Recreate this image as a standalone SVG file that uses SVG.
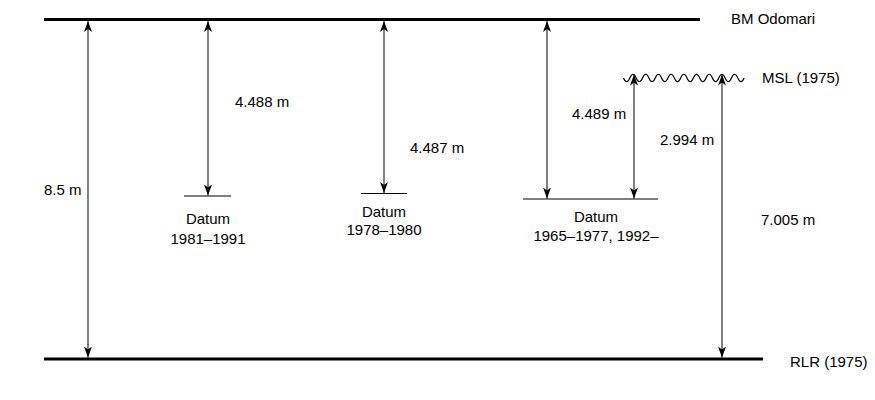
<svg xmlns="http://www.w3.org/2000/svg" width="875" height="400" viewBox="0 0 875 400">
<style>
text{font-family:"Liberation Sans",Arial,sans-serif;font-size:15px;fill:#000}
.lvl{stroke:#000;stroke-width:3;fill:none}
.dat{stroke:#000;stroke-width:1.2;fill:none}
.arr{stroke:#000;stroke-width:1;fill:none;marker-start:url(#ah);marker-end:url(#ah)}
.mid{text-anchor:middle}
</style>
<defs>
<marker id="ah" markerUnits="userSpaceOnUse" markerWidth="12" markerHeight="10" viewBox="-11 -5 12 10" refX="0" refY="0" orient="auto-start-reverse">
<path d="M0,0 L-11,-4 L-8,0 L-11,4 Z" fill="#000"/>
</marker>
</defs>
<rect width="875" height="400" fill="#fff"/>
<g id="bm">
<line class="lvl" x1="44" y1="19.5" x2="700" y2="19.5"/>
<text x="731" y="24">BM Odomari</text>
</g>
<g id="rlr">
<line class="lvl" x1="44" y1="359" x2="763" y2="359"/>
<text x="790" y="367">RLR (1975)</text>
</g>
<g id="msl">
<path class="dat" stroke-width="1" d="M623.5,78 Q626.675,85.5 629.85,78 T636.2,78 T642.55,78 T648.9,78 T655.25,78 T661.6,78 T667.95,78 T674.3,78 T680.65,78 T687,78 T693.35,78 T699.7,78 T706.05,78 T712.4,78 T718.75,78 T725.1,78 T731.45,78 T737.8,78 T744.15,78"/>
<text x="762" y="83">MSL (1975)</text>
</g>
<g id="datum1">
<line class="dat" x1="184" y1="196" x2="231" y2="196"/>
<text class="mid" x="208" y="224">Datum</text>
<text class="mid" x="208" y="244">1981–1991</text>
</g>
<g id="datum2">
<line class="dat" x1="361" y1="193.5" x2="407" y2="193.5"/>
<text class="mid" x="384" y="217">Datum</text>
<text class="mid" x="384" y="235">1978–1980</text>
</g>
<g id="datum3">
<line class="dat" x1="523" y1="199" x2="658" y2="199"/>
<text class="mid" x="596" y="222">Datum</text>
<text class="mid" x="596" y="241">1965–1977, 1992–</text>
</g>
<g id="connectors">
<line class="arr" x1="88" y1="21" x2="88" y2="357.5"/>
<line class="arr" x1="208" y1="21" x2="208" y2="195.5"/>
<line class="arr" x1="384" y1="21" x2="384" y2="193"/>
<line class="arr" x1="547" y1="21" x2="547" y2="198.5"/>
<line class="arr" x1="634" y1="198.5" x2="634" y2="74.5"/>
<line class="arr" x1="722" y1="357.5" x2="722" y2="74.5"/>
</g>
<g id="labels">
<text x="44" y="195">8.5 m</text>
<text x="235" y="107">4.488 m</text>
<text x="410" y="153">4.487 m</text>
<text x="572" y="119">4.489 m</text>
<text x="660" y="145">2.994 m</text>
<text x="761" y="225">7.005 m</text>
</g>
</svg>
